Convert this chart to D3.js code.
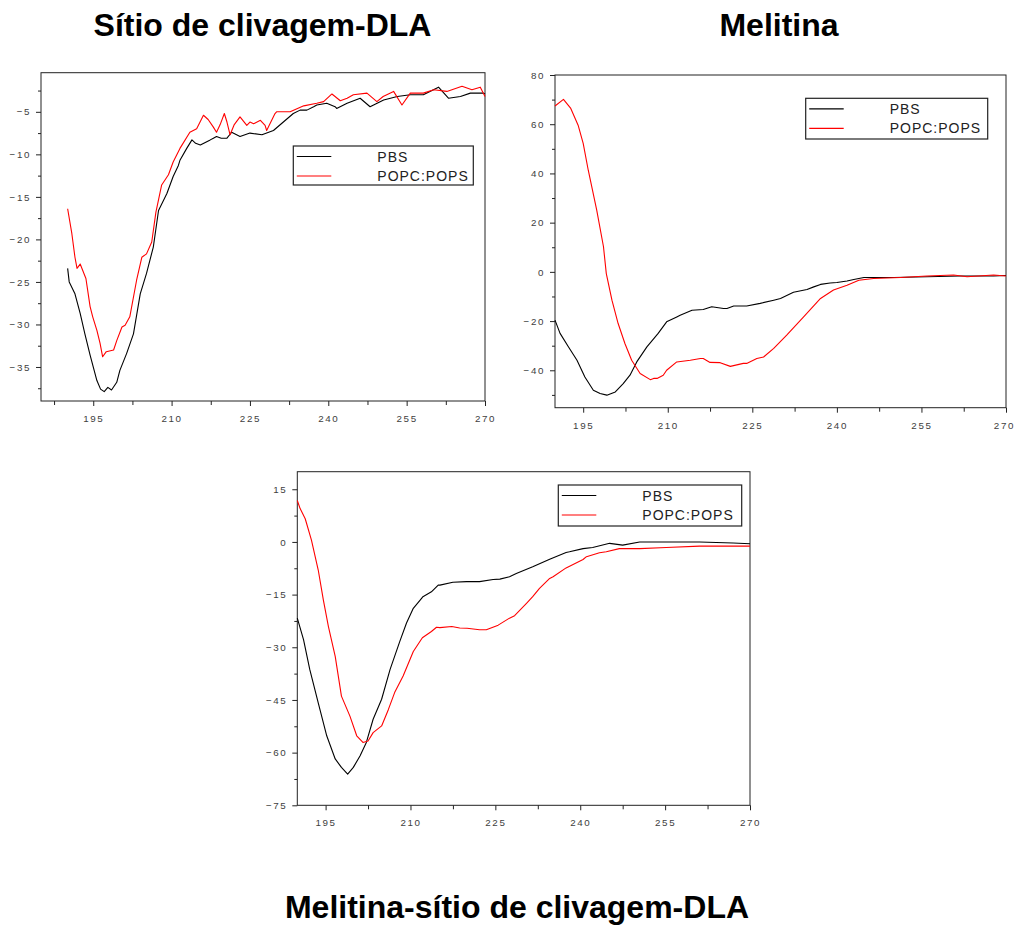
<!DOCTYPE html>
<html>
<head>
<meta charset="utf-8">
<script src="https://cdn.jsdelivr.net/npm/d3@7"></script>
<style>
  html, body { margin: 0; padding: 0; background: #fff; }
  svg { display: block; }
  .tick text { font-family: "Liberation Sans", Arial, sans-serif; font-size: 9.8px; fill: #404040; letter-spacing: 1.6px; }
  .tick line { stroke: #222; }
  .title { font-family: "Liberation Sans", Arial, sans-serif; font-weight: bold; font-size: 32px; fill: #000; }
  .legend text { font-family: "Liberation Sans", Arial, sans-serif; font-size: 14px; fill: #222; letter-spacing: 1px; }
</style>
</head>
<body>
<svg id="chart" width="1016" height="926"></svg>
<script>
// Circular dichroism spectra (wavelength in nm, ellipticity in mdeg)
const seriesNames = ["PBS", "POPC:POPS"];
const seriesColors = ["#000000", "#ff0000"];

// Sítio de clivagem-DLA
const dlaPbs = [[190.1,-23.4],[190.4,-25.0],[191.5,-26.4],[192.5,-28.7],[193.4,-31.1],[194.4,-33.6],[195.7,-36.6],[196.4,-37.6],[197.1,-37.9],[197.8,-37.4],[198.5,-37.7],[199.5,-36.8],[200.1,-35.4],[201.4,-33.4],[202.7,-31.1],[204.0,-26.4],[205.2,-24.0],[206.5,-20.9],[207.5,-16.6],[209.1,-14.6],[210.3,-12.6],[211.3,-11.3],[211.6,-10.7],[212.9,-9.3],[213.9,-8.3],[214.6,-8.7],[215.5,-8.9],[217.4,-8.3],[218.0,-8.1],[218.6,-7.9],[219.5,-8.1],[220.6,-8.1],[221.5,-7.4],[223.1,-7.9],[225.0,-7.5],[227.3,-7.7],[229.5,-7.2],[231.4,-6.2],[233.3,-5.2],[234.6,-4.8],[235.9,-4.8],[237.2,-4.4],[237.8,-4.2],[239.7,-4.0],[241.3,-4.4],[241.6,-4.6],[243.6,-4.0],[246.1,-3.4],[248.0,-4.4],[250.6,-3.6],[253.2,-3.2],[255.7,-3.0],[258.2,-3.0],[261.1,-2.1],[263.0,-3.4],[265.3,-3.2],[267.2,-2.8],[269.7,-2.8],[270.0,-2.9]];
const dlaPopc = [[190.1,-16.4],[190.9,-19.3],[191.5,-22.1],[191.9,-23.4],[192.5,-22.9],[193.6,-24.6],[194.4,-27.9],[194.9,-29.1],[195.7,-30.7],[196.3,-32.2],[196.8,-33.8],[197.5,-33.2],[198.9,-33.0],[199.5,-31.9],[200.5,-30.3],[201.1,-30.1],[202.0,-29.1],[203.3,-24.8],[204.3,-22.1],[205.2,-21.7],[206.2,-20.3],[207.0,-16.8],[208.1,-13.6],[209.4,-12.4],[210.3,-10.9],[211.6,-9.3],[213.5,-7.4],[214.8,-7.0],[216.1,-5.4],[217.0,-5.9],[218.0,-6.8],[218.6,-7.4],[219.3,-6.5],[220.1,-5.2],[220.6,-6.2],[221.2,-7.7],[222.0,-6.5],[223.1,-5.6],[224.4,-6.6],[225.0,-6.2],[225.7,-6.4],[227.0,-6.0],[227.9,-6.6],[228.2,-7.2],[229.8,-5.2],[230.1,-5.0],[232.7,-5.0],[235.3,-4.3],[237.8,-4.0],[239.1,-3.8],[240.7,-2.9],[242.3,-3.7],[243.6,-3.4],[244.8,-3.0],[247.4,-2.8],[249.3,-3.8],[250.5,-3.2],[252.5,-2.6],[254.1,-4.2],[255.7,-2.8],[258.2,-2.8],[260.2,-2.4],[262.7,-2.6],[265.6,-2.0],[267.5,-2.4],[269.1,-2.1],[270.0,-3.2]];

// Melitina
const melPbs = [[190,-19.6],[190.9,-25.0],[192.4,-30.5],[193.9,-35.9],[195.3,-42.7],[196.8,-48.1],[198,-49.4],[199.2,-50.1],[200.7,-48.8],[202.1,-45.4],[203.3,-42.0],[204.5,-36.6],[206.3,-30.5],[208.3,-25.0],[209.8,-20.3],[211.6,-18.3],[212.2,-17.6],[214.3,-15.6],[216.3,-15.3],[217.8,-14.2],[219.9,-14.9],[220.5,-14.9],[221.7,-13.9],[224,-13.9],[226.4,-12.8],[228.8,-11.5],[230,-10.8],[232.3,-8.3],[234.7,-7.2],[235.9,-6.1],[237.1,-5.1],[238.8,-4.5],[240,-4.3],[241.8,-3.7],[243,-3.1],[244.8,-2.3],[250.1,-2.3],[256,-2.0],[261.9,-1.7],[267.8,-1.7],[270,-1.5]];
const melPopc = [[190,67.4],[191.5,70.1],[192.8,66.4],[194.1,59.6],[195,52.2],[195.9,41.3],[197.4,25.1],[198.6,10.2],[199.1,-0.7],[200.1,-11.5],[201.2,-21.0],[202.4,-29.1],[203.6,-35.9],[205.1,-41.3],[206.9,-43.8],[207.5,-43.3],[208.1,-43.3],[209.2,-42.0],[209.8,-40.0],[211.6,-36.6],[214,-35.9],[215.8,-35.2],[216.3,-35.2],[217.5,-36.8],[219.3,-36.9],[221.1,-38.4],[223.4,-37.2],[224,-37.2],[225.8,-35.2],[227,-34.6],[228.8,-31.1],[231.1,-25.7],[234.1,-18.3],[237.1,-10.8],[239.4,-7.4],[241.8,-5.4],[243.9,-3.4],[246.5,-2.7],[251.3,-2.3],[256,-1.7],[260.7,-1.3],[263.1,-2.0],[267.8,-1.3],[270,-1.7]];

// Melitina-sítio de clivagem-DLA
const mixPbs = [[190,-21.7],[191.1,-27.8],[192.2,-36.3],[193.7,-45.8],[195.2,-55.2],[196.7,-61.8],[197.8,-64.2],[198.9,-66.1],[199.9,-64.2],[201.1,-60.9],[202.2,-57.1],[203.4,-50.5],[204.9,-44.8],[206.4,-36.3],[208.1,-28.4],[209.3,-23.1],[210.5,-18.9],[212,-16.0],[212.2,-15.6],[213.7,-14.2],[214.9,-12.3],[215.2,-12.3],[217.5,-11.5],[219.9,-11.3],[222.2,-11.3],[224.6,-10.7],[225.8,-10.6],[227.5,-9.9],[228.7,-9.0],[231.6,-7.1],[234.6,-4.9],[237.5,-3.0],[238.1,-2.8],[240.5,-1.9],[242.2,-1.6],[245.2,-0.4],[247.5,-0.9],[250.5,0.0],[255.2,0.0],[261.1,0.0],[267,-0.3],[270,-0.5]];
const mixPopc = [[190,11.8],[190.5,9.5],[191.4,6.6],[192.5,0.5],[193.7,-8.0],[194.6,-16.5],[195.5,-24.1],[196.7,-32.6],[197.8,-43.9],[199.3,-49.6],[200.5,-55.2],[201.6,-57.1],[202.5,-56.7],[203.4,-54.3],[204.9,-52.4],[206.1,-47.7],[207.2,-42.9],[208.7,-38.2],[210.5,-31.2],[212.1,-27.3],[213.7,-25.5],[214.6,-24.3],[215.2,-24.4],[217.3,-24.1],[218.7,-24.5],[220,-24.6],[222.2,-25.0],[223.4,-25.0],[225.5,-23.7],[227.5,-21.7],[228.4,-21.0],[230.5,-17.5],[231.6,-15.6],[232.8,-13.2],[234.6,-10.4],[235.2,-9.9],[237.5,-7.4],[240.5,-5.0],[241.1,-4.2],[243.4,-3.1],[244.6,-2.8],[246.9,-1.9],[248.1,-1.9],[250.5,-1.9],[255.2,-1.6],[261.1,-1.2],[270,-1.2]];

// Axis ticks
const xTicks = [195, 210, 225, 240, 255, 270];
const xMinorTicks = [187.5, 202.5, 217.5, 232.5, 247.5, 262.5];
const dlaYTicks = [-35, -30, -25, -20, -15, -10, -5];
const dlaYMinor = [-37.5, -32.5, -27.5, -22.5, -17.5, -12.5, -7.5, -2.5];
const melYTicks = [-40, -20, 0, 20, 40, 60, 80];
const melYMinor = [-50, -30, -10, 10, 30, 50, 70];
const mixYTicks = [-75, -60, -45, -30, -15, 0, 15];
const mixYMinor = [-67.5, -52.5, -37.5, -22.5, -7.5, 7.5];

const titles = ["Sítio de clivagem-DLA", "Melitina", "Melitina-sítio de clivagem-DLA"];

const W = 1016;
const svg = d3.select("#chart");

function drawPanel(p) {
  const x = d3.scaleLinear().domain(p.xDomain).range([p.left, p.right]);
  const y = d3.scaleLinear().domain(p.yDomain).range([p.bottom, p.top]);
  const g = svg.append("g");

  // x axis: labelled major ticks and unlabelled minor ticks
  g.append("g").attr("transform", `translate(0,${p.bottom})`)
    .call(d3.axisBottom(x).tickValues(xTicks).tickSize(5).tickPadding(9).tickFormat(d3.format("d")))
    .call(a => a.select(".domain").remove())
    .call(a => a.selectAll(".tick text").each(function () {
      // keep labels at the right edge inside the page
      const b = this.getBBox();
      const parent = this.parentNode.getCTM();
      const right = parent.e + b.x + b.width;
      if (right > W - 1) d3.select(this).attr("dx", (W - 1 - right) + "px");
    }));
  g.append("g").attr("transform", `translate(0,${p.bottom})`)
    .call(d3.axisBottom(x).tickValues(p.xMinor).tickSize(4).tickFormat(""))
    .call(a => a.select(".domain").remove());

  // y axis
  g.append("g").attr("transform", `translate(${p.left},0)`)
    .call(d3.axisLeft(y).tickValues(p.yTicks).tickSize(5).tickPadding(5).tickFormat(d3.format("d")))
    .call(a => a.select(".domain").remove());
  g.append("g").attr("transform", `translate(${p.left},0)`)
    .call(d3.axisLeft(y).tickValues(p.yMinor).tickSize(3).tickFormat(""))
    .call(a => a.select(".domain").remove());

  // frame
  g.append("rect")
    .attr("x", p.left).attr("y", p.top)
    .attr("width", p.right - p.left).attr("height", p.bottom - p.top)
    .attr("fill", "none").attr("stroke", "#222").attr("stroke-width", 1);

  // spectra
  const line = d3.line().x(d => x(d[0])).y(d => y(d[1]));
  p.series.forEach((s, i) => {
    g.append("path").datum(s)
      .attr("d", line)
      .attr("fill", "none")
      .attr("stroke", seriesColors[i])
      .attr("stroke-width", 1.1)
      .attr("stroke-linejoin", "round");
  });

  // legend
  const lg = g.append("g").attr("class", "legend");
  lg.append("rect")
    .attr("x", p.legend[0]).attr("y", p.legend[1])
    .attr("width", p.legend[2]).attr("height", p.legend[3])
    .attr("fill", "#fff").attr("stroke", "#222").attr("stroke-width", 1.2);
  seriesNames.forEach((name, i) => {
    const ry = p.legend[1] + 10.5 + i * 19.5;
    lg.append("line")
      .attr("x1", p.legend[0] + 3.5).attr("x2", p.legend[0] + 38)
      .attr("y1", ry).attr("y2", ry)
      .attr("stroke", seriesColors[i]).attr("stroke-width", 1.2);
    lg.append("text")
      .attr("x", p.legend[0] + 84).attr("y", ry + 5)
      .text(name);
  });
}

drawPanel({
  left: 41, right: 485, top: 72.7, bottom: 401,
  xDomain: [185, 270], yDomain: [-39, -0.4],
  xMinor: xMinorTicks, yTicks: dlaYTicks, yMinor: dlaYMinor,
  series: [dlaPbs, dlaPopc],
  legend: [293.3, 146, 180, 39]
});
drawPanel({
  left: 555, right: 1006, top: 75, bottom: 407.7,
  xDomain: [190, 270], yDomain: [-55.2, 80],
  xMinor: xMinorTicks.slice(1), yTicks: melYTicks, yMinor: melYMinor,
  series: [melPbs, melPopc],
  legend: [805.7, 98.3, 182, 40.7]
});
drawPanel({
  left: 297.3, right: 750, top: 471.7, bottom: 805.3,
  xDomain: [190, 270], yDomain: [-75, 20],
  xMinor: xMinorTicks.slice(1), yTicks: mixYTicks, yMinor: mixYMinor,
  series: [mixPbs, mixPopc],
  legend: [558.3, 485, 183.4, 41]
});

// panel titles
svg.append("text").attr("class", "title").attr("x", 262.5).attr("y", 36).attr("text-anchor", "middle").text(titles[0]);
svg.append("text").attr("class", "title").attr("x", 779).attr("y", 36).attr("text-anchor", "middle").text(titles[1]);
svg.append("text").attr("class", "title").attr("x", 517).attr("y", 918).attr("text-anchor", "middle").text(titles[2]);
</script>
</body>
</html>
